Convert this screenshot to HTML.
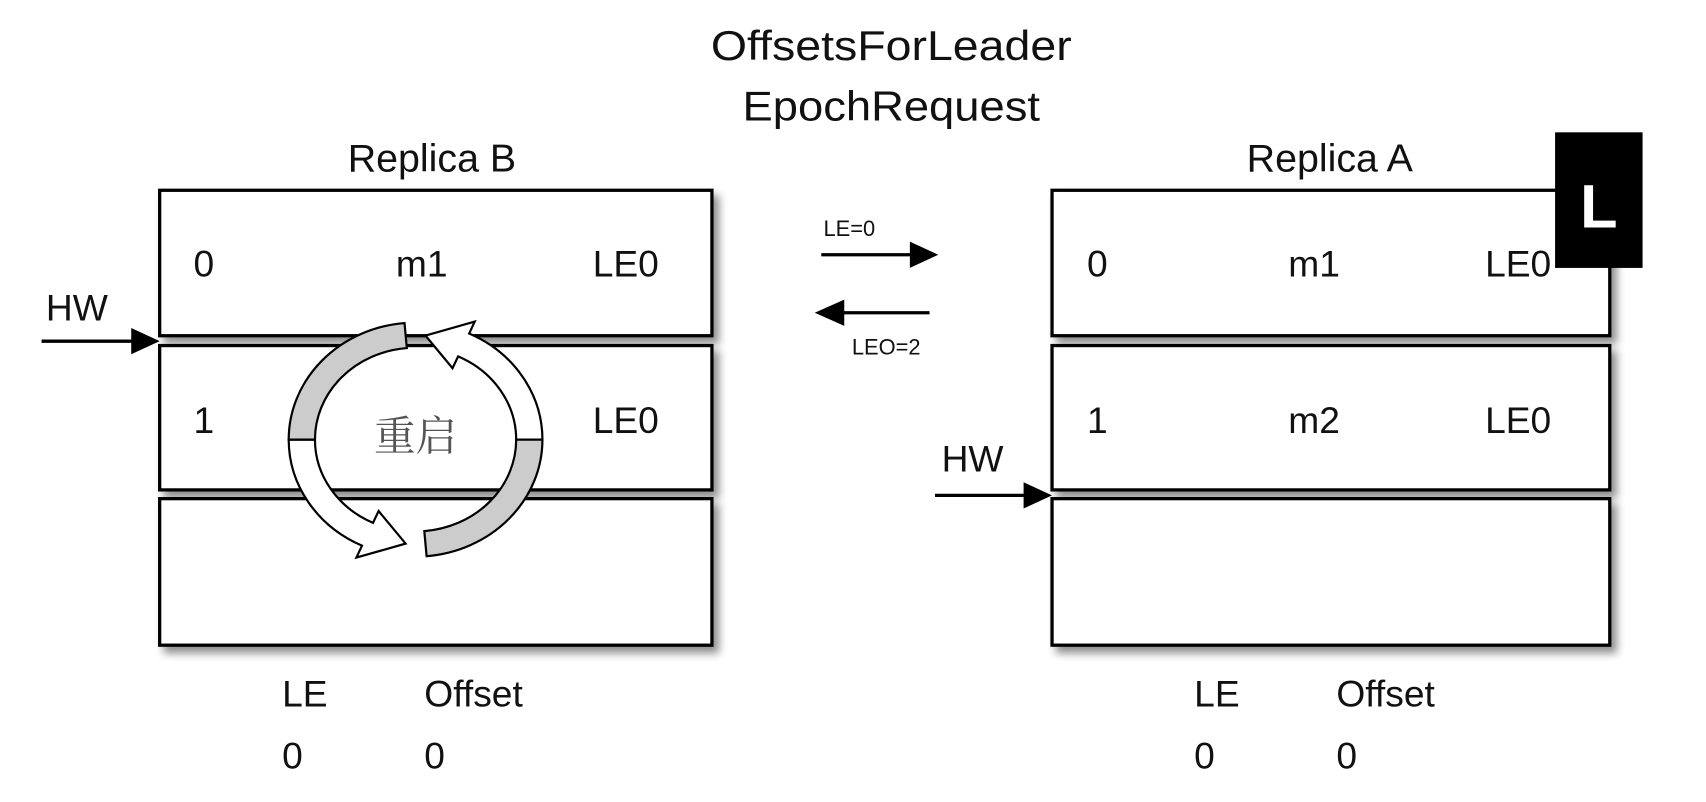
<!DOCTYPE html>
<html><head><meta charset="utf-8"><style>
html,body{margin:0;padding:0;background:#fff;width:1706px;height:802px;overflow:hidden}
svg{display:block}
text{font-family:"Liberation Sans","Noto Sans CJK SC",sans-serif;fill:#111}
</style></head><body>
<svg width="1706" height="802" viewBox="0 0 1560 733.4" preserveAspectRatio="none">
<defs>
<filter id="sh" x="-5%" y="-5%" width="115%" height="125%"><feGaussianBlur in="SourceAlpha" stdDeviation="4"/><feOffset dx="5" dy="6"/><feComponentTransfer><feFuncA type="linear" slope="0.45"/></feComponentTransfer><feMerge><feMergeNode/><feMergeNode in="SourceGraphic"/></feMerge></filter>
</defs>
<text x="815" y="55" font-size="38" text-anchor="middle" textLength="330" lengthAdjust="spacingAndGlyphs">OffsetsForLeader</text>
<text x="815" y="110" font-size="38" text-anchor="middle" textLength="272" lengthAdjust="spacingAndGlyphs">EpochRequest</text>
<text x="395" y="157" font-size="36" text-anchor="middle">Replica  B</text>
<text x="1216" y="157" font-size="36" text-anchor="middle">Replica  A</text>
<g fill="#fff" stroke="#000" stroke-width="3" filter="url(#sh)">
<rect x="146" y="174" width="505" height="133"/>
<rect x="146" y="316" width="505" height="132"/>
<rect x="146" y="456" width="505" height="134"/>
<rect x="962" y="174" width="510" height="133"/>
<rect x="962" y="316" width="510" height="132"/>
<rect x="962" y="456" width="510" height="134"/>
</g>
<g font-size="34">
<text x="177" y="253">0</text><text x="362" y="253">m1</text><text x="542" y="253">LE0</text>
<text x="177" y="396">1</text><text x="542" y="396">LE0</text>
<text x="994" y="253">0</text><text x="1178" y="253">m1</text><text x="1358" y="253">LE0</text>
<text x="994" y="396">1</text><text x="1178" y="396">m2</text><text x="1358" y="396">LE0</text>
<text x="42" y="293">HW</text><text x="861" y="431">HW</text>
<text x="258" y="646">LE</text><text x="388" y="646">Offset</text>
<text x="258" y="703">0</text><text x="388" y="703">0</text>
<text x="1092" y="646">LE</text><text x="1222" y="646">Offset</text>
<text x="1092" y="703">0</text><text x="1222" y="703">0</text>
</g>
<g stroke="#000" stroke-width="3"><line x1="38" y1="312" x2="122" y2="312"/><line x1="855" y1="453" x2="938" y2="453"/>
<line x1="751" y1="233" x2="835" y2="233"/><line x1="770" y1="286" x2="850" y2="286"/></g>
<polygon points="120,300 146,312 120,324"/><polygon points="936,441 962,453 936,465"/>
<polygon points="832,221 858,233 832,245"/><polygon points="772,274 745,286 772,298"/>
<text x="753" y="216" font-size="20">LE=0</text><text x="779" y="324" font-size="20">LEO=2</text>
<rect x="1422" y="121" width="80" height="124" fill="#000"/>
<text x="1462" y="208" font-size="56" font-weight="bold" text-anchor="middle" style="fill:#fff">L</text>
<g stroke="#000" stroke-width="2">
<path fill="#fff" d="M264,402 A116,107 0 0 0 331,499 L325.9,509.9 L370.9,497.1 L346.2,467.3 L341.1,478.1 A92,84 0 0 1 288,402 Z"/>
<path fill="#fff" d="M496,402 A116,107 0 0 0 429,305 L434.1,294.1 L389.1,306.9 L413.8,336.7 L418.9,325.9 A92,84 0 0 1 472,402 Z"/>
<path fill="#cccccc" d="M369.9,295.4 A116,107 0 0 0 264,402 L288,402 A92,84 0 0 1 372,318.3 Z"/>
<path fill="#cccccc" d="M390.1,508.6 A116,107 0 0 0 496,402 L472,402 A92,84 0 0 1 388,485.7 Z"/>
</g>
<text x="380" y="412" font-size="38" text-anchor="middle" style="fill:#555;font-family:'Noto Serif CJK SC','Noto Sans CJK SC',serif">重启</text>
</svg>
</body></html>
